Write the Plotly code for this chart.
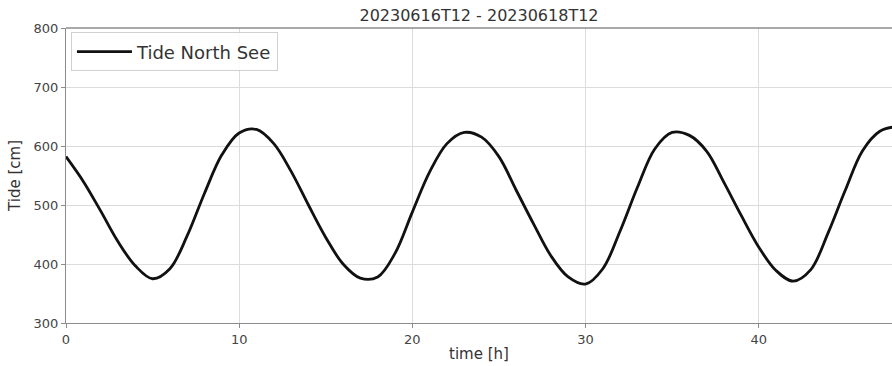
import plotly.graph_objects as go

# time [h]
hours = list(range(0, 49))
# tide [cm]
tide_cm = [582, 540, 490, 438, 397, 375, 392, 448, 520, 585,
           622, 628, 604, 557, 500, 445, 400, 376, 378, 418,
           488, 556, 604, 623, 615, 582, 525, 468, 414, 378,
           366, 392, 456, 530, 595, 623, 618, 591, 538, 482,
           429, 389, 371, 390, 452, 525, 592, 625, 633]

series_name = "Tide North See"
title_text = "20230616T12 - 20230618T12"
x_ticks = [0, 10, 20, 30, 40]
y_ticks = [300, 400, 500, 600, 700, 800]

W, H = 892, 366
L, R, T, B = 66, 0, 28, 43
TXT = "#333333"
FONT = "DejaVu Sans"

fig = go.Figure()
fig.add_trace(go.Scatter(
    x=hours, y=tide_cm, mode="lines", name=series_name,
    line=dict(color="#111111", width=2.8, shape="spline", smoothing=1.0),
))

axis_common = dict(
    showgrid=True, gridcolor="#dcdcdc", gridwidth=1,
    showline=True, linecolor="#8c8c8c", linewidth=1.3,
    ticks="outside", ticklen=4, tickcolor="#8c8c8c", tickwidth=1,
    tickfont=dict(family=FONT, size=13, color="#444444"),
    zeroline=False, mirror=False,
)

fig.update_layout(
    width=W, height=H,
    margin=dict(l=L, r=R, t=T, b=B, pad=0),
    paper_bgcolor="white", plot_bgcolor="white",
    font=dict(family=FONT, color=TXT),
    title=dict(text=title_text, x=(L + (W - L) / 2) / W, xanchor="center",
               y=1 - 15 / H, yanchor="middle", yref="container",
               font=dict(family=FONT, size=16, color=TXT)),
    xaxis=dict(range=[0, 47.7], tickvals=x_ticks,
               title=dict(text="time [h]", standoff=2,
                          font=dict(family=FONT, size=15, color=TXT)),
               **axis_common),
    yaxis=dict(range=[300, 800], tickvals=y_ticks,
               title=dict(text="Tide [cm]", standoff=9,
                          font=dict(family=FONT, size=15, color=TXT)),
               **axis_common),
    legend=dict(x=0.006, y=0.985, xanchor="left", yanchor="top",
                bgcolor="rgba(255,255,255,0.85)", bordercolor="#d0d0d0", borderwidth=1,
                font=dict(family=FONT, size=18, color=TXT),
                itemwidth=55, tracegroupgap=0),
    showlegend=True,
)
# top spine
fig.add_shape(type="line", xref="paper", yref="paper", x0=0, x1=1, y0=1, y1=1,
              line=dict(color="#8c8c8c", width=1.3))

fig.write_html("out.html")
